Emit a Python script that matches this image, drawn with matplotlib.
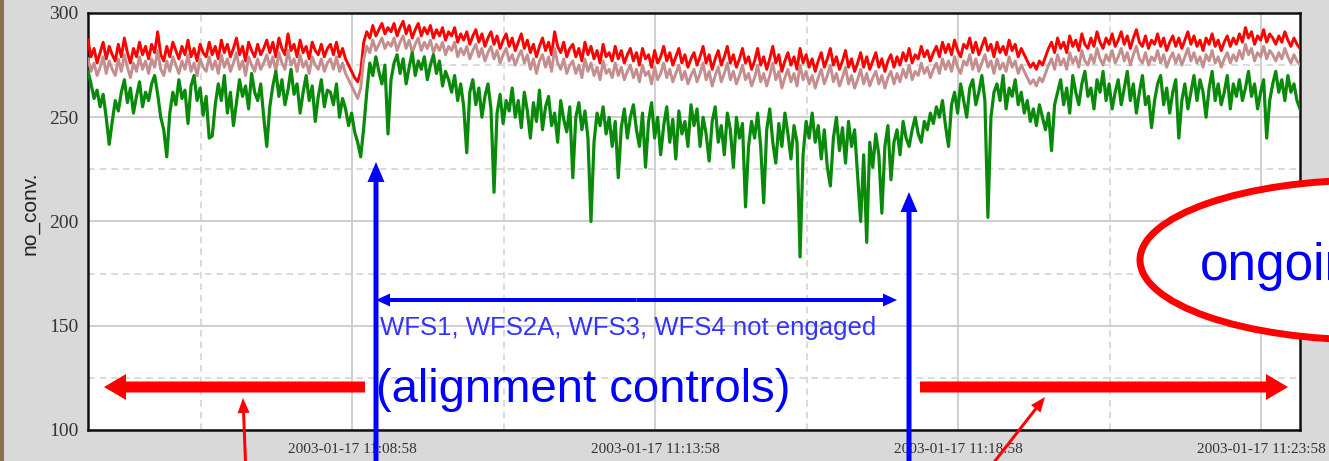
import numpy as np
import matplotlib.pyplot as plt
from matplotlib import patches

# --- data (one sample every 3 s, 20 per row = 1 min) ---
# time in minutes relative to 2003-01-17 11:08:58
t_start = -4.36
t_step = 0.05

no_conv_max = [
    287, 279, 283, 276, 281, 286, 278, 284, 280, 277, 285, 279, 288, 281, 276, 283, 279, 286, 280, 284,
    278, 285, 281, 291, 280, 277, 284, 279, 286, 282, 278, 284, 280, 287, 279, 283, 277, 285, 281, 279,
    286, 280, 284, 278, 287, 281, 285, 279, 283, 288, 280, 284, 277, 286, 282, 279, 285, 280, 283, 287,
    281, 286, 279, 288, 283, 280, 290, 282, 285, 279, 287, 281, 284, 278, 286, 282, 280, 285, 279, 283,
    285, 280, 286, 279, 283, 278, 275, 272, 269, 267, 272, 286, 291, 288, 294, 289, 292, 295, 290, 293,
    291, 295, 289, 293, 296, 290, 294, 288, 292, 295, 289, 293, 290, 294, 288, 292, 289, 293, 287, 291,
    289, 293, 286, 290, 287, 291, 285, 289, 292, 286, 290, 284, 288, 291, 285, 289, 283, 287, 290, 284,
    288, 282, 286, 290, 283, 287, 281, 285, 279, 284, 288, 282, 286, 280, 291, 284, 281, 286, 279, 283,
    285, 279, 283, 277, 286, 280, 284, 278, 282, 276, 285, 279, 281, 277, 284, 278, 282, 276, 280, 283,
    277, 281, 275, 283, 278, 280, 274, 282, 276, 279, 284, 277, 281, 275, 279, 283, 276, 280, 274, 278,
    281, 275, 279, 284, 276, 280, 273, 278, 282, 275, 279, 284, 276, 280, 274, 278, 283, 276, 279, 273,
    277, 283, 275, 279, 273, 278, 284, 276, 280, 272, 277, 281, 275, 279, 273, 283, 276, 280, 274, 278,
    272, 277, 281, 274, 278, 283, 275, 279, 273, 277, 282, 274, 278, 272, 276, 281, 274, 279, 273, 277,
    281, 274, 278, 272, 277, 280, 274, 279, 275, 281, 277, 283, 276, 280, 278, 284, 279, 282, 277, 281,
    284, 279, 286, 281, 285, 280, 287, 282, 279, 285, 283, 288, 281, 286, 280, 284, 288, 282, 285, 279,
    286, 281, 284, 280, 287, 282, 285, 279, 283, 280, 277, 274, 276, 273, 277, 275, 279, 283, 286, 281,
    288, 283, 286, 281, 289, 284, 287, 282, 290, 285, 283, 288, 284, 291, 286, 283, 288, 285, 290, 284,
    287, 291, 285, 289, 283, 288, 292, 286, 284, 289, 283, 287, 285, 290, 284, 288, 282, 286, 289, 284,
    288, 283, 287, 291, 285, 289, 284, 287, 282, 288, 285, 290, 284, 287, 282, 286, 289, 284, 288, 285,
    290, 286, 293, 288, 291, 285, 289, 287, 292, 286, 290, 288, 285, 289, 286, 291, 287, 284, 288, 285,
    283,
]
no_conv_mean = [
    278, 272, 276, 270, 274, 279, 271, 277, 273, 270, 278, 272, 280, 274, 269, 276, 272, 279, 273, 277,
    271, 278, 274, 282, 273, 270, 277, 272, 279, 275, 271, 277, 273, 280, 272, 276, 270, 278, 274, 272,
    279, 273, 277, 271, 280, 274, 278, 272, 276, 281, 273, 277, 270, 279, 275, 272, 278, 273, 276, 280,
    274, 279, 272, 281, 276, 273, 282, 275, 278, 272, 280, 274, 277, 271, 279, 275, 273, 278, 272, 276,
    278, 273, 279, 272, 276, 271, 268, 265, 262, 259, 264, 278, 284, 281, 287, 282, 285, 288, 283, 286,
    284, 288, 282, 286, 289, 283, 287, 281, 285, 288, 282, 286, 283, 287, 281, 285, 282, 286, 280, 284,
    282, 286, 279, 283, 280, 284, 278, 282, 285, 279, 283, 277, 281, 284, 278, 282, 276, 280, 283, 277,
    280, 275, 279, 282, 276, 280, 273, 278, 271, 277, 280, 274, 279, 272, 283, 276, 273, 278, 271, 275,
    277, 271, 275, 269, 278, 272, 276, 270, 274, 268, 277, 271, 273, 269, 276, 270, 274, 268, 272, 275,
    269, 273, 267, 275, 270, 272, 266, 274, 268, 271, 276, 269, 273, 267, 271, 275, 268, 272, 266, 270,
    273, 267, 271, 276, 268, 272, 265, 270, 274, 267, 271, 276, 268, 272, 266, 270, 275, 268, 271, 265,
    269, 275, 267, 271, 265, 270, 276, 268, 272, 264, 269, 273, 267, 271, 265, 275, 268, 272, 266, 270,
    264, 269, 273, 266, 270, 275, 267, 271, 265, 269, 274, 266, 270, 264, 268, 273, 266, 271, 265, 269,
    272, 266, 270, 264, 269, 272, 266, 271, 267, 273, 269, 275, 268, 272, 270, 276, 271, 274, 269, 273,
    276, 271, 278, 273, 277, 272, 279, 274, 271, 277, 275, 280, 273, 278, 272, 276, 280, 274, 277, 271,
    278, 273, 276, 272, 279, 274, 277, 271, 275, 272, 269, 266, 268, 265, 269, 267, 271, 275, 278, 273,
    280, 275, 278, 273, 281, 276, 279, 274, 282, 277, 275, 280, 276, 283, 278, 275, 280, 277, 282, 276,
    279, 283, 277, 281, 275, 280, 284, 278, 276, 281, 275, 279, 277, 282, 276, 280, 274, 278, 281, 276,
    280, 275, 279, 283, 277, 281, 276, 279, 274, 280, 277, 282, 276, 279, 274, 278, 281, 276, 280, 277,
    282, 278, 285, 280, 283, 277, 281, 279, 284, 278, 282, 280, 277, 281, 278, 283, 279, 276, 280, 277,
    275,
]
no_conv_min = [
    272, 266, 259, 263, 255, 261, 250, 237, 248, 258, 253, 262, 268, 257, 264, 252, 260, 267, 255, 262,
    258, 266, 270, 261, 250, 244, 231, 252, 262, 256, 268, 259, 263, 247, 265, 270, 258, 264, 251, 260,
    240, 241, 256, 266, 258, 270, 252, 262, 246, 257, 268, 260, 265, 254, 271, 262, 258, 266, 250, 236,
    255, 265, 272, 260, 268, 256, 263, 273, 261, 266, 252, 262, 270, 258, 265, 248, 260, 268, 255, 263,
    262, 256, 266, 250, 259, 254, 246, 252, 243, 238, 231, 245, 262, 276, 270, 279, 272, 266, 275, 242,
    268, 276, 280, 271, 278, 266, 274, 281, 270, 277, 273, 279, 268, 275, 280, 271, 277, 265, 272, 268,
    262, 270, 258, 266, 255, 233, 262, 268, 256, 264, 250, 260, 266, 254, 214, 252, 261, 247, 258, 253,
    264, 250, 258, 245, 262, 253, 240, 257, 248, 263, 244, 255, 260, 246, 252, 238, 258, 249, 243, 255,
    221, 250, 257, 244, 253, 240, 200, 238, 252, 246, 255, 242, 250, 236, 248, 221, 245, 254, 240, 250,
    256, 244, 236, 252, 226, 248, 257, 240, 250, 232, 246, 255, 238, 249, 230, 253, 242, 248, 236, 256,
    246, 254, 236, 250, 242, 229, 248, 255, 238, 246, 232, 252, 244, 226, 250, 240, 247, 207, 236, 248,
    240, 252, 236, 209, 244, 254, 238, 228, 247, 236, 252, 242, 230, 246, 238, 183, 232, 248, 240, 252,
    238, 246, 230, 244, 226, 217, 240, 250, 234, 245, 228, 248, 236, 244, 222, 200, 232, 190, 238, 226,
    242, 232, 204, 236, 246, 220, 238, 244, 232, 248, 240, 236, 244, 250, 242, 238, 248, 244, 252, 247,
    255, 250, 258, 246, 236, 256, 262, 252, 266, 258, 250, 264, 268, 256, 262, 270, 258, 202, 250, 262,
    266, 258, 270, 254, 264, 260, 268, 256, 262, 252, 258, 248, 254, 246, 256, 250, 244, 252, 234, 256,
    262, 268, 256, 264, 252, 270, 262, 256, 266, 272, 260, 264, 254, 268, 262, 272, 258, 266, 254, 262,
    268, 256, 264, 272, 258, 266, 252, 262, 270, 256, 260, 245, 258, 266, 270, 256, 264, 252, 262, 268,
    240, 258, 266, 254, 262, 270, 258, 268, 262, 250, 264, 272, 258, 266, 256, 262, 270, 254, 266, 260,
    268, 258, 264, 272, 260, 266, 254, 262, 268, 240, 258, 266, 272, 262, 268, 258, 270, 262, 266, 258,
    254,
]

major_ticks = [0, 5, 10, 15]
major_labels = ["2003-01-17 11:08:58", "2003-01-17 11:13:58",
                "2003-01-17 11:18:58", "2003-01-17 11:23:58"]
minor_ticks = [-2.5, 2.5, 7.5, 12.5]
y_ticks = [100, 150, 200, 250, 300]
y_minor = [125, 175, 225, 275]

t = t_start + t_step * np.arange(len(no_conv_max))

W, H = 1329, 461
fig = plt.figure(figsize=(W / 100, H / 100), dpi=100, facecolor="#d9d9d9")
ax = fig.add_axes([88 / W, 1 - 430 / H, 1212 / W, 417 / H])

# --- chart ---
ax.plot(t, no_conv_max, color="#ff0000", lw=2.1, zorder=3)
ax.plot(t, no_conv_mean, color="#c48e8e", lw=2.1, zorder=4)
ax.plot(t, no_conv_min, color="#0a8a0a", lw=2.3, zorder=5)

ax.set_xlim(-4.36, 15.64)
ax.set_ylim(100, 300)
ax.set_xticks(major_ticks)
ax.set_xticklabels(major_labels, family="Liberation Serif", fontsize=11, color="#333333")
ax.set_xticks(minor_ticks, minor=True)
ax.set_yticks(y_ticks)
ax.set_yticklabels([str(v) for v in y_ticks], family="Liberation Serif", fontsize=14, color="#333333")
ax.set_yticks(y_minor, minor=True)
ax.tick_params(which="both", length=0)
ax.tick_params(axis="x", pad=9)
ax.tick_params(axis="y", pad=7)

ax.grid(which="major", color="#cccccc", lw=1.3, ls="-", zorder=0)
ax.grid(which="minor", color="#d4d4d4", lw=1.2, ls=(0, (4, 3)), zorder=0)
for s in ax.spines.values():
    s.set_linewidth(1.8)
    s.set_color("#111111")

ax.set_ylabel("no_conv.", family="Liberation Sans", fontsize=15, color="#222222")
ax.yaxis.set_label_coords(-0.04, 0.52)

# --- slide annotations, drawn in pixel space on top ---
ov = fig.add_axes([0, 0, 1, 1])
ov.set_xlim(0, W)
ov.set_ylim(H, 0)
ov.axis("off")
ov.patch.set_alpha(0)

ov.add_patch(patches.Rectangle((0, 0), 4, H, color="#8a7150", lw=0))

blue = "#0000ff"
red = "#ff0000"

# vertical blue arrows
ov.add_patch(patches.FancyArrow(376, 475, 0, 162 - 475, width=5, head_width=17,
                                head_length=20, length_includes_head=True, color=blue, lw=0))
ov.add_patch(patches.FancyArrow(909, 475, 0, 192 - 475, width=5, head_width=17,
                                head_length=20, length_includes_head=True, color=blue, lw=0))
# blue double arrow
mid = (376 + 897) / 2
for tip in (376, 897):
    ov.add_patch(patches.FancyArrow(mid, 300, tip - mid, 0, width=4, head_width=13,
                                    head_length=14, length_includes_head=True, color=blue, lw=0))

ov.text(380, 335, "WFS1, WFS2A, WFS3, WFS4 not engaged", color="#3333ff",
        family="Liberation Sans", fontsize=18.5, va="baseline", ha="left")
ov.text(376, 402, "(alignment controls)", color=blue,
        family="Liberation Sans", fontsize=34, va="baseline", ha="left")

# thick red arrows
ov.add_patch(patches.FancyArrow(365, 387, 104 - 365, 0, width=11, head_width=26,
                                head_length=22, length_includes_head=True, color=red, lw=0))
ov.add_patch(patches.FancyArrow(920, 387, 1288 - 920, 0, width=11, head_width=26,
                                head_length=22, length_includes_head=True, color=red, lw=0))
# thin red arrows
ov.add_patch(patches.FancyArrow(246, 475, 243 - 246, 398 - 475, width=3, head_width=12,
                                head_length=15, length_includes_head=True, color=red, lw=0))
ov.add_patch(patches.FancyArrow(984, 475, 1045 - 984, 397 - 475, width=3, head_width=12,
                                head_length=15, length_includes_head=True, color=red, lw=0))

# red ellipse with text (runs off the slide edge, as in the original)
ov.add_patch(patches.Ellipse((1370, 260), 460, 160, facecolor="white",
                             edgecolor=red, lw=5))
ov.text(1200, 280, "ongoing", color=blue, family="Liberation Sans",
        fontsize=37, va="baseline", ha="left", clip_on=True)

fig.savefig("out.png", dpi=100, facecolor=fig.get_facecolor())
